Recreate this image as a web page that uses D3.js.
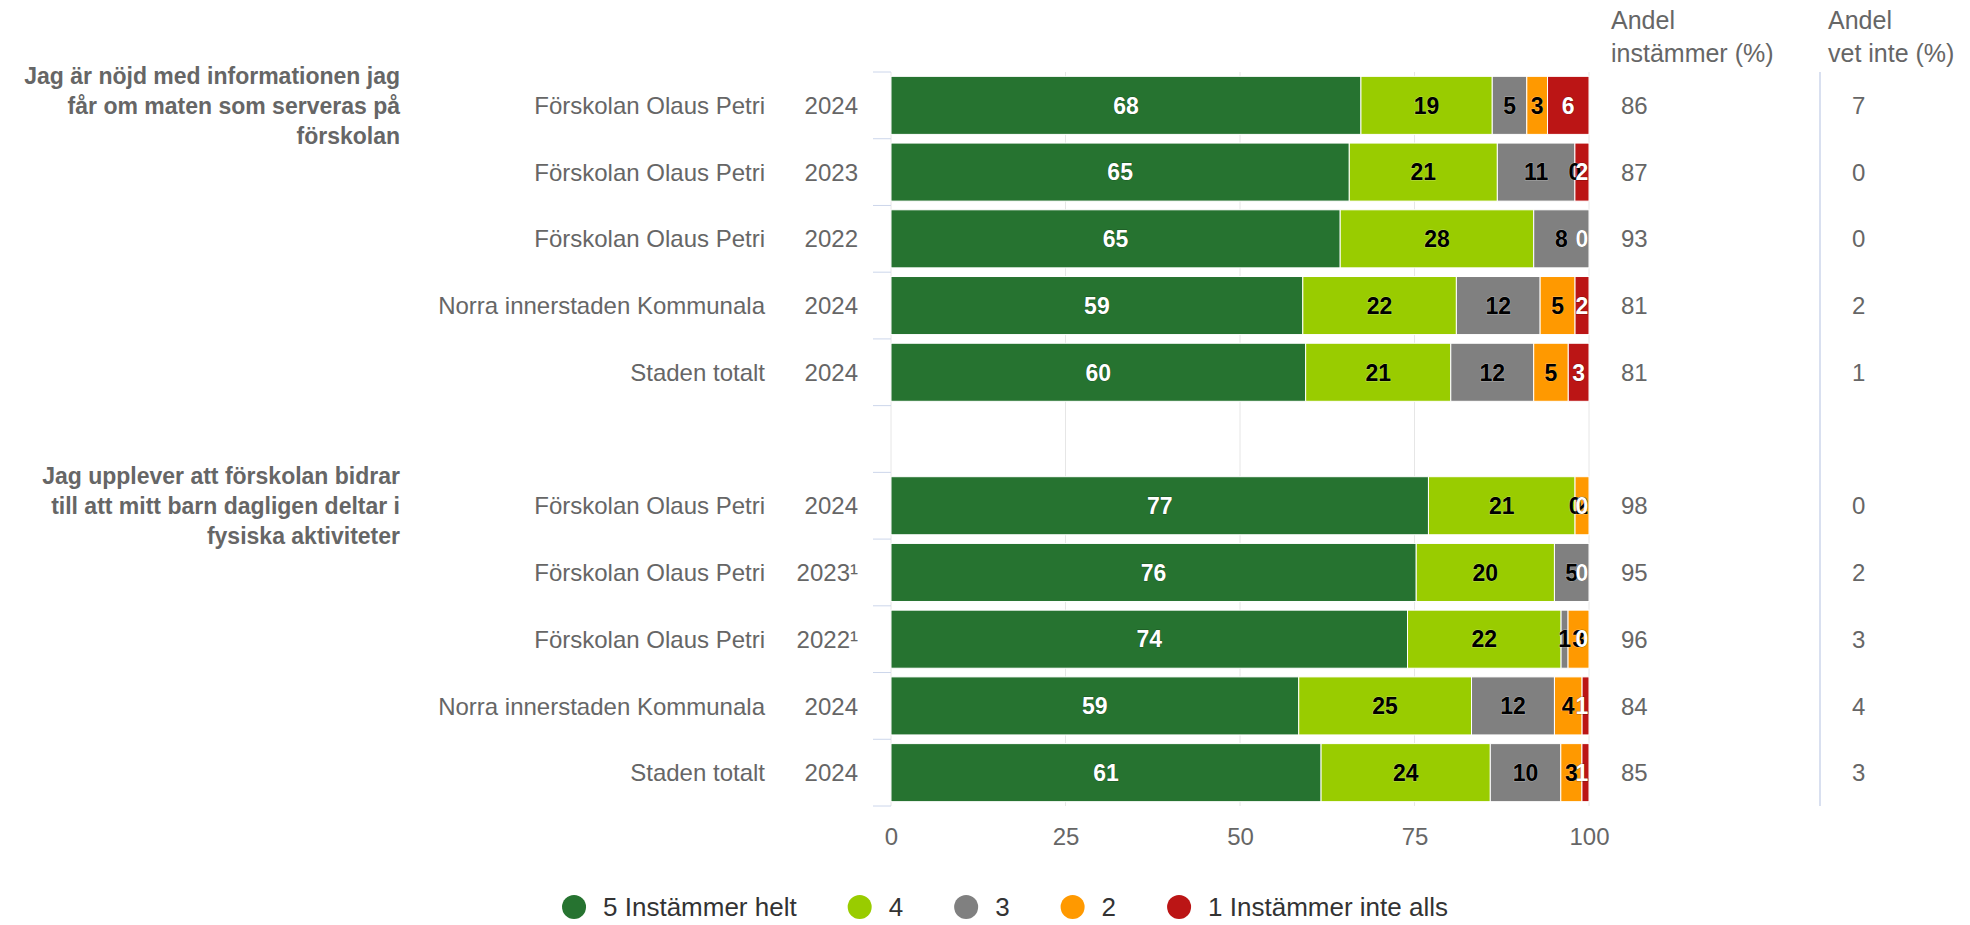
<!DOCTYPE html>
<html>
<head>
<meta charset="utf-8">
<script src="https://cdn.jsdelivr.net/npm/d3@7/dist/d3.min.js"></script>
<style>
  body { margin: 0; background: #fff; }
  text { font-family: "Liberation Sans", Arial, Helvetica, sans-serif; }
</style>
</head>
<body>
<svg id="chart" width="1970" height="925"></svg>
<script>
// question texts, one entry per group (already wrapped like the original)
const questions = [
  ["Jag är nöjd med informationen jag", "får om maten som serveras på", "förskolan"],
  ["Jag upplever att förskolan bidrar", "till att mitt barn dagligen deltar i", "fysiska aktiviteter"]
];
const questionRow = [0, 6];

// rows (index 5 is the empty spacer between the two questions)
const units = ["Förskolan Olaus Petri", "Förskolan Olaus Petri", "Förskolan Olaus Petri", "Norra innerstaden Kommunala", "Staden totalt", "",
               "Förskolan Olaus Petri", "Förskolan Olaus Petri", "Förskolan Olaus Petri", "Norra innerstaden Kommunala", "Staden totalt"];
const years = ["2024", "2023", "2022", "2024", "2024", "", "2024", "2023¹", "2022¹", "2024", "2024"];

// answer shares per row, percent
const v5 = [68, 65, 65, 59, 60, 0, 77, 76, 74, 59, 61];
const v4 = [19, 21, 28, 22, 21, 0, 21, 20, 22, 25, 24];
const v3 = [5, 11, 8, 12, 12, 0, 0, 5, 1, 12, 10];
const v2 = [3, 0, 0, 5, 5, 0, 2, 0, 3, 4, 3];
const v1 = [6, 2, 0, 2, 3, 0, 0, 0, 0, 1, 1];

const andelInstammer = [86, 87, 93, 81, 81, null, 98, 95, 96, 84, 85];
const andelVetInte = [7, 0, 0, 2, 1, null, 0, 2, 3, 4, 3];

const seriesNames = ["5 Instämmer helt", "4", "3", "2", "1 Instämmer inte alls"];
const seriesColors = ["#267330", "#99cc00", "#808080", "#ff9900", "#bb1515"];
const labelColors = ["#ffffff", "#000000", "#000000", "#000000", "#ffffff"];
const xTicks = [0, 25, 50, 75, 100];

const svg = d3.select('#chart');
const margin = {top: 72, bottom: 806, left: 891, right: 1589};

const keys = ["s5", "s4", "s3", "s2", "s1"];
const rows = units.map((u, i) => ({
  i: i, unit: u, year: years[i],
  s5: v5[i], s4: v4[i], s3: v3[i], s2: v2[i], s1: v1[i]
}));

const xScale = d3.scaleLinear().domain([0, 100]).range([margin.left, margin.right]);
const yScale = d3.scaleBand()
    .domain(rows.map(d => d.i))
    .range([margin.top, margin.bottom])
    .paddingInner(0.13)
    .paddingOuter(0.065);

// percent stacking like the original
const stacked = d3.stack().keys(keys).offset(d3.stackOffsetExpand)(rows);

// vertical grid lines
svg.append('g').selectAll('line')
  .data(xTicks)
  .join('line')
    .attr('x1', d => xScale(d)).attr('x2', d => xScale(d))
    .attr('y1', margin.top).attr('y2', margin.bottom)
    .attr('stroke', '#e6e6e6')
    .attr('stroke-width', 1);

// category tick marks at band edges
const edges = d3.range(rows.length + 1).map(i => yScale.range()[0] + i * yScale.step());
svg.append('g').selectAll('line')
  .data(edges)
  .join('line')
    .attr('x1', margin.left - 18).attr('x2', margin.left)
    .attr('y1', d => d).attr('y2', d => d)
    .attr('stroke', '#ccd6eb')
    .attr('stroke-width', 1);

// bars
const barG = svg.append('g');
stacked.forEach((ser, si) => {
  barG.selectAll('.bar-' + si)
    .data(ser.filter(d => d.data.unit !== ''))
    .join('rect')
      .attr('class', 'bar-' + si)
      .attr('x', d => xScale(d[0] * 100))
      .attr('width', d => Math.max(0, xScale(d[1] * 100) - xScale(d[0] * 100)))
      .attr('y', d => yScale(d.data.i))
      .attr('height', yScale.bandwidth())
      .attr('fill', seriesColors[si])
      .attr('stroke', '#ffffff')
      .attr('stroke-width', 1);
});

// data labels
const labelG = svg.append('g');
stacked.forEach((ser, si) => {
  labelG.selectAll('.lab-' + si)
    .data(ser.filter(d => d.data.unit !== ''))
    .join('text')
      .attr('class', 'lab-' + si)
      .attr('x', d => Math.min(xScale((d[0] + d[1]) / 2 * 100), margin.right - 7))
      .attr('y', d => yScale(d.data.i) + yScale.bandwidth() / 2)
      .attr('dy', '0.36em')
      .attr('text-anchor', 'middle')
      .style('font-size', '23px')
      .style('font-weight', 'bold')
      .style('fill', labelColors[si])
      .style('stroke', labelColors[si] === '#ffffff' ? '#000000' : '#ffffff')
      .style('stroke-width', '1px')
      .style('stroke-opacity', 0.35)
      .style('paint-order', 'stroke')
      .text(d => d.data[keys[si]]);
});

// category labels
const rowCenter = i => yScale(i) + yScale.bandwidth() / 2;
svg.append('g').selectAll('text')
  .data(rows.filter(d => d.unit !== ''))
  .join('text')
    .attr('x', 765)
    .attr('y', d => rowCenter(d.i))
    .attr('dy', '0.36em')
    .attr('text-anchor', 'end')
    .style('font-size', '24px')
    .style('fill', '#666666')
    .text(d => d.unit);

svg.append('g').selectAll('text')
  .data(rows.filter(d => d.unit !== ''))
  .join('text')
    .attr('x', 858)
    .attr('y', d => rowCenter(d.i))
    .attr('dy', '0.36em')
    .attr('text-anchor', 'end')
    .style('font-size', '24px')
    .style('fill', '#666666')
    .text(d => d.year);

// question titles, middle line level with the first row of the group
questions.forEach((lines, qi) => {
  svg.append('g').selectAll('text')
    .data(lines)
    .join('text')
      .attr('x', 400)
      .attr('y', (d, k) => rowCenter(questionRow[qi]) + (k - 1) * 30)
      .attr('dy', '0.36em')
      .attr('text-anchor', 'end')
      .style('font-size', '23px')
      .style('font-weight', 'bold')
      .style('fill', '#666666')
      .text(d => d);
});

// x axis
const xAxis = d3.axisBottom(xScale).tickValues(xTicks).tickSize(0).tickPadding(22);
const xAxisG = svg.append('g')
    .attr('transform', `translate(0,${margin.bottom})`)
    .call(xAxis);
xAxisG.select('.domain').remove();
xAxisG.selectAll('text')
    .style('font-size', '24px')
    .style('fill', '#666666')
    .style('font-family', '"Liberation Sans", Arial, sans-serif');

// right side columns
const colX = [1611, 1828];
const colHeads = [["Andel", "instämmer (%)"], ["Andel", "vet inte (%)"]];
colHeads.forEach((lines, ci) => {
  svg.append('g').selectAll('text')
    .data(lines)
    .join('text')
      .attr('x', colX[ci])
      .attr('y', (d, k) => 20 + k * 33)
      .attr('dy', '0.36em')
      .style('font-size', '25px')
      .style('fill', '#666666')
      .text(d => d);
});

svg.append('line')
    .attr('x1', 1820).attr('x2', 1820)
    .attr('y1', margin.top).attr('y2', margin.bottom)
    .attr('stroke', '#ccd6eb')
    .attr('stroke-width', 1.5);

[andelInstammer, andelVetInte].forEach((vals, ci) => {
  svg.append('g').selectAll('text')
    .data(vals.map((v, i) => ({v: v, i: i})).filter(d => d.v !== null))
    .join('text')
      .attr('x', ci === 0 ? 1621 : 1852)
      .attr('y', d => rowCenter(d.i))
      .attr('dy', '0.36em')
      .style('font-size', '24px')
      .style('fill', '#666666')
      .text(d => d.v);
});

// legend
const legend = svg.append('g');
const items = legend.selectAll('g')
  .data(seriesNames)
  .join('g');
items.append('circle')
    .attr('r', 12)
    .attr('fill', (d, i) => seriesColors[i]);
items.append('text')
    .attr('x', 29)
    .attr('dy', '0.36em')
    .style('font-size', '26px')
    .style('fill', '#333333')
    .text(d => d);

let cursor = 0;
const offsets = [];
items.each(function() {
  offsets.push(cursor);
  const w = d3.select(this).select('text').node().getComputedTextLength();
  cursor += 29 + w + 63;
});
const totalW = cursor - 63 + 12;
const legendStart = 1005 - totalW / 2 + 12;
items.attr('transform', (d, i) => `translate(${legendStart + offsets[i]},907)`);
</script>
</body>
</html>
